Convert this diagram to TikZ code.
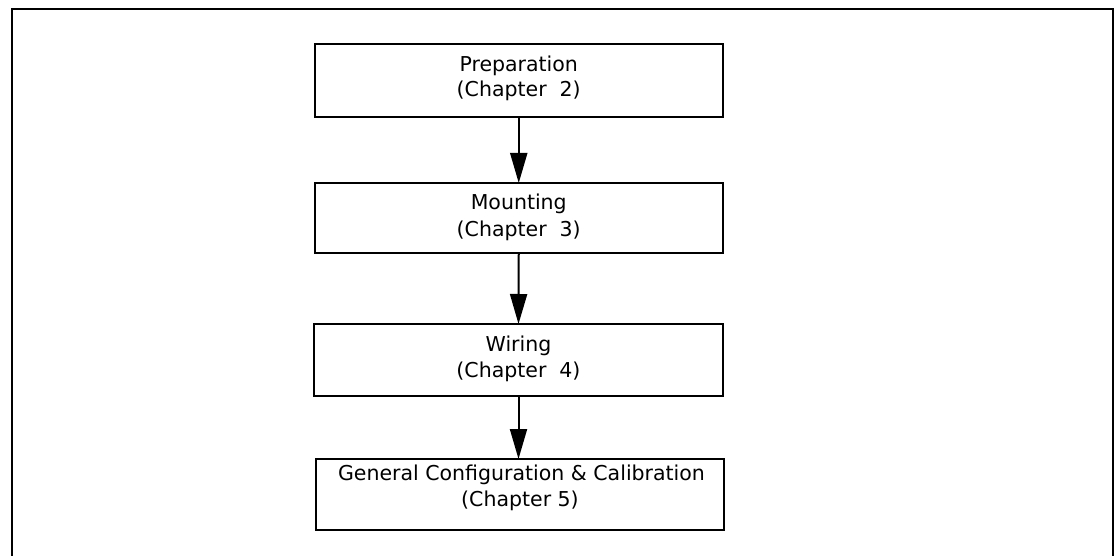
\documentclass[tikz,border=0pt]{standalone}
\usepackage{fontspec}
\setmainfont{DejaVu Sans}
\usetikzlibrary{arrows.meta}
\tikzset{
  stepbox/.style={draw=black, line width=2pt, minimum width=408.5pt, minimum height=72pt, inner sep=0pt, outer sep=0pt},
  lbl/.style={anchor=base, inner sep=0pt, font=\fontsize{20.5}{24}\selectfont},
  flow/.style={line width=2pt, -{Triangle[length=30pt,width=17pt]}},
  frame/.style={line width=2pt}
}
\begin{document}
\begin{tikzpicture}[x=1pt,y=-1pt]
\useasboundingbox (0,0) rectangle (1119,556);
% outer frame (bottom edge lies outside the picture)
\coordinate (fbl) at (11.5,556);
\coordinate (ftl) at (11.5,9);
\coordinate (ftr) at (1113,9);
\coordinate (fbr) at (1113,556);
\draw[frame] (fbl) -- (ftl) -- (ftr) -- (fbr);
% boxes
\node[stepbox, minimum height=72.5pt] (b1) at (518.75,80.75) {};
\node[stepbox, minimum height=70pt] (b2) at (518.75,218) {};
\node[stepbox, minimum width=409pt] (b3) at (518.5,360) {};
\node[stepbox, minimum height=71pt] (b4) at (520,494.5) {};
% texts
\node[lbl] (t1a) at ([yshift=8.75pt]b1.center) {Preparation};
\node[lbl] (t1b) at ([yshift=-16.25pt]b1.center) {(Chapter\ \ 2)};
\node[lbl] (t2a) at ([yshift=8pt]b2.center) {Mounting};
\node[lbl] (t2b) at ([yshift=-18.7pt]b2.center) {(Chapter\ \ 3)};
\node[lbl] (t3a) at ([yshift=9pt]b3.center) {Wiring};
\node[lbl] (t3b) at ([yshift=-17.3pt]b3.center) {(Chapter\ \ 4)};
\node[lbl] (t4a) at ([xshift=1.5pt,yshift=13.8pt]b4.center) {General Configuration \& Calibration};
\node[lbl] (t4b) at ([yshift=-12.2pt]b4.center) {(Chapter 5)};
% connectors
\draw[flow] (b1.south) -- (b2.north);
\draw[flow] (b2.south) -- (b3.north);
\draw[flow] (b3.south) -- (b3.south |- b4.north);
\end{tikzpicture}
\end{document}
